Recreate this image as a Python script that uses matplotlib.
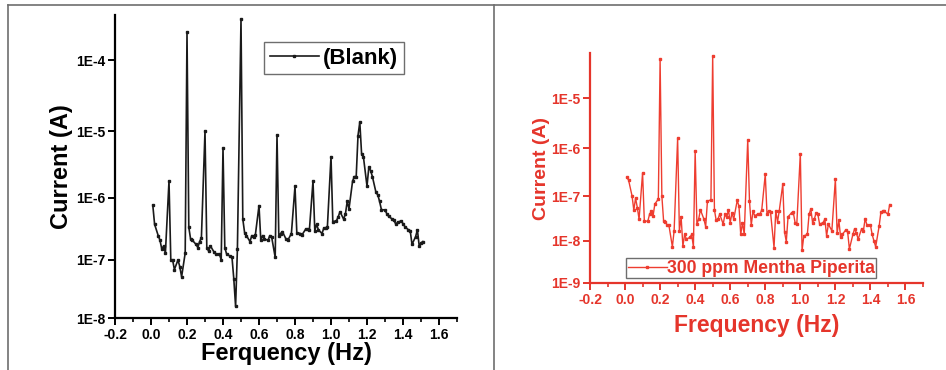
import numpy as np
import matplotlib
matplotlib.use("Agg")
import matplotlib.pyplot as plt
from matplotlib.lines import Line2D
from matplotlib.ticker import MultipleLocator, NullLocator

plt.rcParams["font.family"] = ["Liberation Sans", "DejaVu Sans"]
plt.rcParams["font.weight"] = "bold"

# ---- 左图: Blank ----
f_blank = [0.01, 0.02, 0.04, 0.05, 0.06, 0.07, 0.08, 0.10, 0.11, 0.12, 0.13, 0.15, 0.16, 0.17,
           0.19, 0.20, 0.21, 0.22, 0.23, 0.25, 0.26, 0.27, 0.28, 0.30, 0.31, 0.32, 0.33, 0.35,
           0.36, 0.38, 0.39, 0.40, 0.41, 0.42, 0.44, 0.45, 0.46, 0.47, 0.48, 0.50, 0.51, 0.52,
           0.53, 0.55, 0.56, 0.57, 0.58, 0.60, 0.61, 0.62, 0.63, 0.65, 0.66, 0.67, 0.69, 0.70,
           0.71, 0.72, 0.73, 0.75, 0.76, 0.78, 0.80, 0.81, 0.83, 0.84, 0.86, 0.87, 0.88, 0.90,
           0.91, 0.92, 0.93, 0.95, 0.96, 0.97, 0.98, 1.00, 1.01, 1.03, 1.04, 1.05, 1.07, 1.08,
           1.09, 1.10, 1.12, 1.13, 1.14, 1.15, 1.16, 1.17, 1.18, 1.20, 1.21, 1.22, 1.23, 1.25,
           1.26, 1.27, 1.28, 1.30, 1.31, 1.32, 1.34, 1.35, 1.36, 1.37, 1.39, 1.40, 1.41, 1.43,
           1.44, 1.45, 1.47, 1.48, 1.49, 1.50, 1.51]
i_blank = [7.6e-7, 3.8e-7, 2.5e-7, 2.1e-7, 1.5e-7, 1.7e-7, 1.3e-7, 1.8e-6, 1.0e-7, 1.0e-7, 6.9e-8, 1.0e-7, 7.7e-8, 5.2e-8,
           1.3e-7, 2.4e-4, 3.4e-7, 2.2e-7, 2.1e-7, 1.8e-7, 1.6e-7, 2.0e-7, 2.3e-7, 1.0e-5, 1.6e-7, 1.4e-7, 1.7e-7, 1.35e-7,
           1.25e-7, 1.25e-7, 1.0e-7, 5.6e-6, 1.6e-7, 1.25e-7, 1.15e-7, 1.1e-7, 4.8e-8, 1.6e-8, 1.5e-7, 3.6e-4, 4.6e-7, 2.8e-7,
           2.5e-7, 2.0e-7, 2.5e-7, 2.4e-7, 2.6e-7, 7.5e-7, 2.1e-7, 2.5e-7, 2.2e-7, 2.1e-7, 2.5e-7, 2.4e-7, 1.1e-7, 8.8e-6,
           2.5e-7, 2.7e-7, 2.9e-7, 2.2e-7, 2.1e-7, 2.7e-7, 1.5e-6, 2.8e-7, 2.7e-7, 2.6e-7, 3.2e-7, 3.2e-7, 3.1e-7, 1.8e-6,
           3.0e-7, 3.8e-7, 3.1e-7, 2.7e-7, 3.3e-7, 3.3e-7, 3.5e-7, 4.2e-6, 4.2e-7, 4.3e-7, 5.0e-7, 6.0e-7, 4.6e-7, 5.5e-7,
           8.7e-7, 6.7e-7, 1.8e-6, 2.1e-6, 2.1e-6, 8.6e-6, 1.35e-5, 4.6e-6, 4.2e-6, 1.5e-6, 2.9e-6, 2.6e-6, 2.1e-6, 1.2e-6,
           1.1e-6, 8.7e-7, 6.5e-7, 6.4e-7, 5.6e-7, 5.1e-7, 4.6e-7, 4.4e-7, 3.8e-7, 4.1e-7, 4.3e-7, 3.9e-7, 3.5e-7, 3.1e-7,
           3.0e-7, 1.8e-7, 2.4e-7, 3.1e-7, 1.7e-7, 1.9e-7, 2.0e-7]

# ---- 右图: 300 ppm Mentha Piperita ----
f_mp = [0.01, 0.02, 0.04, 0.05, 0.06, 0.07, 0.08, 0.10, 0.11, 0.13, 0.14, 0.15, 0.16, 0.17,
        0.19, 0.20, 0.21, 0.22, 0.23, 0.24, 0.25, 0.27, 0.28, 0.30, 0.31, 0.32, 0.33, 0.34,
        0.35, 0.37, 0.38, 0.39, 0.40, 0.41, 0.42, 0.43, 0.45, 0.46, 0.47, 0.49, 0.50, 0.51,
        0.52, 0.53, 0.54, 0.56, 0.57, 0.58, 0.59, 0.60, 0.61, 0.62, 0.64, 0.65, 0.66, 0.67,
        0.68, 0.70, 0.71, 0.72, 0.73, 0.74, 0.76, 0.77, 0.78, 0.80, 0.81, 0.82, 0.83, 0.85,
        0.86, 0.87, 0.88, 0.90, 0.91, 0.92, 0.93, 0.95, 0.96, 0.97, 0.98, 1.00, 1.01, 1.02,
        1.04, 1.05, 1.06, 1.07, 1.08, 1.09, 1.10, 1.11, 1.13, 1.14, 1.15, 1.16, 1.18, 1.20,
        1.21, 1.22, 1.23, 1.24, 1.26, 1.27, 1.28, 1.30, 1.31, 1.32, 1.33, 1.35, 1.36, 1.37,
        1.38, 1.40, 1.41, 1.42, 1.43, 1.45, 1.46, 1.47, 1.48, 1.50, 1.51]
i_mp = [2.5e-7, 2.2e-7, 1.0e-7, 4.9e-8, 9.0e-8, 5.6e-8, 3.1e-8, 3.1e-7, 2.8e-8, 2.8e-8, 4.0e-8, 4.6e-8, 3.7e-8, 6.7e-8,
        8.6e-8, 5.4e-5, 1.0e-7, 2.8e-8, 2.7e-8, 2.3e-8, 2.3e-8, 7.3e-9, 1.7e-8, 1.6e-6, 1.7e-8, 3.4e-8, 7.6e-9, 1.4e-8,
        1.1e-8, 1.2e-8, 1.4e-8, 7.3e-9, 8.9e-7, 2.4e-8, 3.1e-8, 5.0e-8, 3.1e-8, 2.1e-8, 7.7e-8, 8.3e-8, 6.3e-5, 5.0e-8,
        2.9e-8, 3.1e-8, 4.0e-8, 2.4e-8, 4.0e-8, 3.4e-8, 5.0e-8, 2.6e-8, 4.3e-8, 3.1e-8, 8.0e-8, 6.0e-8, 1.4e-8, 2.6e-8,
        1.4e-8, 1.5e-6, 7.7e-8, 2.3e-8, 4.6e-8, 3.7e-8, 4.1e-8, 4.0e-8, 5.0e-8, 2.9e-7, 4.0e-8, 4.8e-8, 4.4e-8, 7.0e-9,
        4.8e-8, 2.7e-8, 4.8e-8, 1.8e-7, 1.6e-8, 9.6e-9, 3.5e-8, 4.3e-8, 4.4e-8, 2.6e-8, 2.4e-8, 7.8e-7, 6.0e-9, 1.3e-8,
        1.4e-8, 4.0e-8, 5.2e-8, 2.6e-8, 3.1e-8, 4.3e-8, 4.0e-8, 2.4e-8, 2.6e-8, 3.1e-8, 1.3e-8, 2.4e-8, 1.7e-8, 2.3e-7,
        1.5e-8, 2.9e-8, 1.2e-8, 1.4e-8, 1.8e-8, 1.6e-8, 6.5e-9, 1.4e-8, 1.9e-8, 1.5e-8, 1.1e-8, 1.9e-8, 1.7e-8, 3.2e-8,
        2.3e-8, 2.3e-8, 1.4e-8, 1.0e-8, 7.3e-9, 2.2e-8, 4.5e-8, 4.6e-8, 4.6e-8, 4.0e-8, 6.5e-8]

x_ticks = [-0.2, 0.0, 0.2, 0.4, 0.6, 0.8, 1.0, 1.2, 1.4, 1.6]
y_ticks_l = [1e-8, 1e-7, 1e-6, 1e-5, 1e-4]
y_labels_l = ["1E-8", "1E-7", "1E-6", "1E-5", "1E-4"]
y_ticks_r = [1e-9, 1e-8, 1e-7, 1e-6, 1e-5]
y_labels_r = ["1E-9", "1E-8", "1E-7", "1E-6", "1E-5"]

RED = "#e5352b"
GRAY = "#6e6e6e"


def stretched_log(ymin, c):
    # 原图纵轴十倍程间距逐渐变大，用对数加二次项近似
    l0 = np.log10(ymin)

    def fwd(y):
        L = np.log10(np.maximum(y, 1e-300)) - l0
        return L + c * L * L

    def inv(v):
        return 10 ** ((-1 + np.sqrt(np.maximum(1 + 4 * c * v, 0))) / (2 * c) + l0)
    return fwd, inv


def style_axes(ax, color, ticks, labels):
    for s in ["top", "right"]:
        ax.spines[s].set_visible(False)
    for s in ["left", "bottom"]:
        ax.spines[s].set_color(color)
        ax.spines[s].set_linewidth(1.6)
    ax.set_xlim(-0.2, 1.7)
    ax.set_xticks(x_ticks)
    ax.set_xticklabels([f"{t:.1f}" for t in x_ticks])
    ax.xaxis.set_minor_locator(MultipleLocator(0.1))
    ax.set_yticks(ticks, labels)
    ax.yaxis.set_minor_locator(NullLocator())
    ax.tick_params(which="major", direction="out", length=5, width=1.4, color=color,
                   labelcolor=color, labelsize=10, pad=2)
    ax.tick_params(which="minor", direction="out", length=3, width=1.2, color=color)


fig = plt.figure(figsize=(9.46, 3.70), dpi=100)

# 左图
ax1 = fig.add_axes([115 / 946, 1 - 318 / 370, 342 / 946, 303 / 370])
ax1.set_yscale("function", functions=stretched_log(1e-8, 0.0375))
ax1.plot(f_blank, i_blank, color="#1a1a1a", lw=1.2, marker="s", ms=1.8, label="(Blank)")
ax1.set_ylim(1e-8, 4.1e-4)
style_axes(ax1, "black", y_ticks_l, y_labels_l)
ax1.set_xlabel("Ferquency (Hz)", fontsize=17, fontweight="bold", labelpad=0)
ax1.set_ylabel("Current (A)", fontsize=17, fontweight="bold", labelpad=2)
leg1 = ax1.legend(loc="upper left", bbox_to_anchor=(0.436, 0.911), borderaxespad=0,
                  fontsize=16, handlelength=2.2, handletextpad=0.2, borderpad=0.25,
                  fancybox=False, framealpha=1, edgecolor=GRAY)
leg1.get_frame().set_linewidth(1.0)

# 右图
ax2 = fig.add_axes([590 / 946, 1 - 283 / 370, 333 / 946, 230 / 370])
ax2.set_yscale("function", functions=stretched_log(1e-9, 0.0337))
ax2.plot(f_mp, i_mp, color="#ee3d30", lw=1.0, marker="s", ms=1.6,
         label="300 ppm Mentha Piperita")
ax2.set_ylim(1e-9, 7.1e-5)
style_axes(ax2, RED, y_ticks_r, y_labels_r)
ax2.set_xlabel("Frequency (Hz)", fontsize=16.5, fontweight="bold", color=RED, labelpad=5)
ax2.set_ylabel("Current (A)", fontsize=14, fontweight="bold", color=RED, labelpad=1)
leg2 = ax2.legend(loc="upper left", bbox_to_anchor=(0.108, 0.109), borderaxespad=0,
                  fontsize=12.7, handlelength=2.2, handletextpad=0.0, borderpad=0.1,
                  fancybox=False, framealpha=1, edgecolor=GRAY)
leg2.get_frame().set_linewidth(1.0)
for t in leg2.get_texts():
    t.set_color(RED)

# 外框与分隔线
for xs, ys in [([8 / 946, 1], [1 - 4.5 / 370] * 2),
               ([8 / 946] * 2, [0, 1 - 4.5 / 370]),
               ([494 / 946] * 2, [0, 1 - 4.5 / 370])]:
    fig.add_artist(Line2D(xs, ys, transform=fig.transFigure, color=GRAY, lw=1.2))

fig.savefig("out.png", dpi=100)
